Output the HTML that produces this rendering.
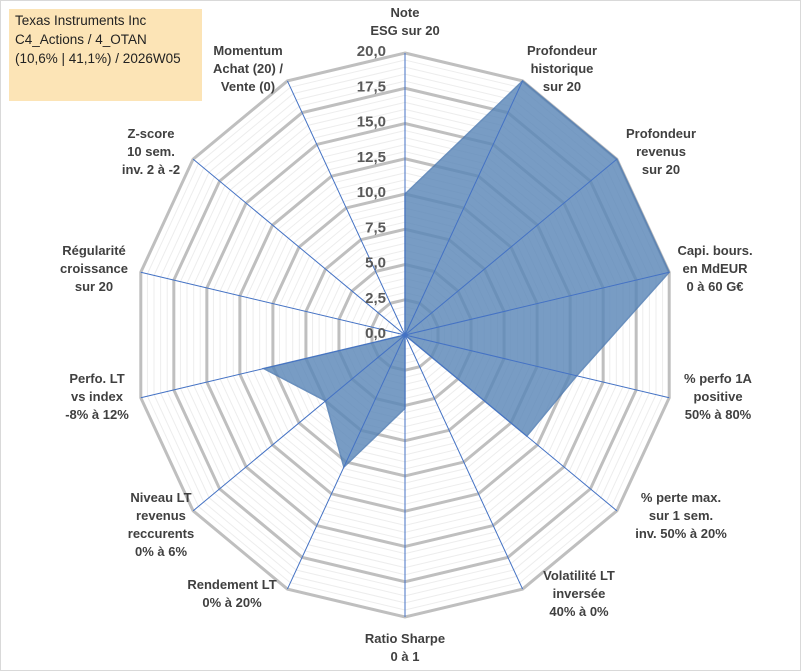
<!DOCTYPE html>
<html><head><meta charset="utf-8"><style>
body{margin:0;background:#fff;}
#wrap{position:relative;width:801px;height:671px;border:1px solid #d9d9d9;box-sizing:border-box;overflow:hidden;font-family:"Liberation Sans",sans-serif;}
.lab{position:absolute;font-weight:bold;font-size:13px;color:#404040;text-align:center;line-height:18px;white-space:nowrap;transform:translate(-50%,-50%);}
#title{position:absolute;left:8px;top:8px;width:193px;height:92px;background:#fce4b6;font-size:13.5px;line-height:19px;padding:2px 6px;box-sizing:border-box;color:#222;}
</style></head><body>
<div id="wrap">
<svg id="svg" width="801" height="671" style="position:absolute;left:0;top:0"></svg>
<div id="title">Texas Instruments Inc<br>C4_Actions / 4_OTAN<br>(10,6% | 41,1%) / 2026W05</div>
</div>
<script>
const categories=["Note\nESG sur 20","Profondeur\nhistorique\nsur 20","Profondeur\nrevenus\nsur 20","Capi. bours.\nen MdEUR\n0 à 60 G€","% perfo 1A\npositive\n50% à 80%","% perte max.\nsur 1 sem.\ninv. 50% à 20%","Volatilité LT\ninversée\n40% à 0%","Ratio Sharpe\n0 à 1","Rendement LT\n0% à 20%","Niveau LT\nrevenus\nreccurents\n0% à 6%","Perfo. LT\nvs index\n-8% à 12%","Régularité\ncroissance\nsur 20","Z-score\n10 sem.\ninv. 2 à -2","Momentum\nAchat (20) /\nVente (0)"];
const values=[10,20,20,20,13,11.5,0,5.2,10.4,7.5,10.7,0,0,0];
const tickLabels=["0,0","2,5","5,0","7,5","10,0","12,5","15,0","17,5","20,0"];
const maxV=20;
const labelPos=[[404,21],[561,68],[660,151],[714,268],[717,396],[680,515],[578,593],[404,647],[231,593],[160,524],[96,396],[93,268],[150,151],[247,68]];
const cx=404,cy=334,RX=271,RY=282,N=categories.length;
const svg=document.getElementById('svg'),NS='http://www.w3.org/2000/svg';
function ang(i){return i*2*Math.PI/N;}
function pt(i,v){const f=v/maxV;return [cx+f*RX*Math.sin(ang(i)),cy-f*RY*Math.cos(ang(i))];}
function mk(t,a){const e=document.createElementNS(NS,t);for(const k in a)e.setAttribute(k,a[k]);svg.appendChild(e);return e;}
for(let s=0.5;s<=maxV+0.01;s+=0.5){
 const major=Math.abs(s/2.5-Math.round(s/2.5))<1e-6;
 let p=[];for(let i=0;i<N;i++)p.push(pt(i,s).join(','));
 const e=mk('polygon',{points:p.join(' '),fill:'none',stroke:major?'#bfbfbf':'#ededed','stroke-width':major?3:1});
 
 
}
let dp=[];for(let i=0;i<N;i++)dp.push(pt(i,values[i]).join(','));
const poly=mk('polygon',{points:dp.join(' '),fill:'#5b87b8',opacity:0.82,stroke:'#4a78b0','stroke-width':1.5});


for(let i=0;i<N;i++){const [x,y]=pt(i,maxV);
 const l=mk('line',{x1:cx,y1:cy,x2:x,y2:y,stroke:'#4472c4','stroke-width':1});
 
 
}
tickLabels.forEach((t,k)=>{const v=k*2.5;const y=cy-v/maxV*RY;
 const e=mk('text',{x:cx-19,y:y+3,'text-anchor':'end','font-size':15,'font-weight':'bold',fill:'#595959','font-family':'Liberation Sans, sans-serif'});
 e.textContent=t;
 
 
});
const wrap=document.getElementById('wrap');
categories.forEach((c,i)=>{const d=document.createElement('div');d.className='lab';
 d.style.left=labelPos[i][0]+'px';d.style.top=labelPos[i][1]+'px';
 d.innerHTML=c.split('\n').join('<br>');
 
 
 wrap.appendChild(d);});
</script>
</body></html>
